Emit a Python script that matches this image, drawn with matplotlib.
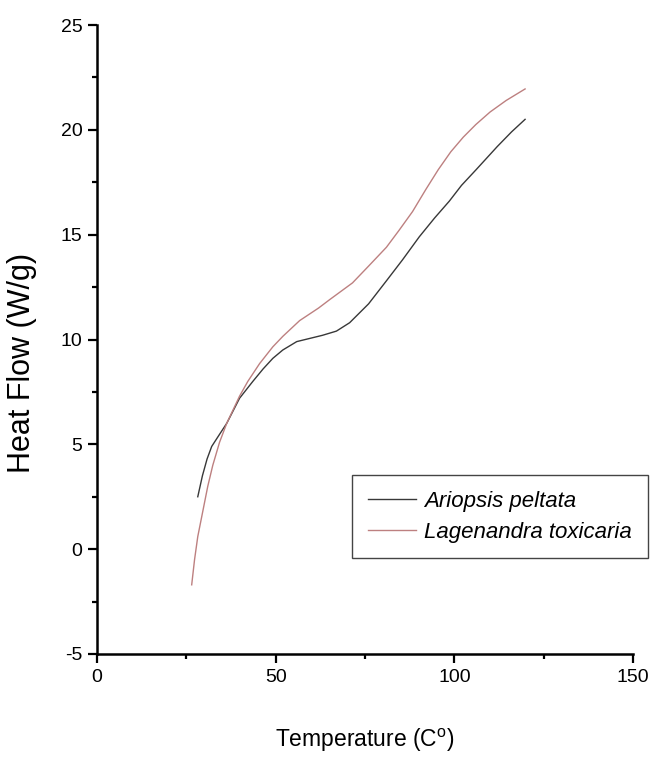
import matplotlib
matplotlib.use("Agg")
import matplotlib.pyplot as plt
from matplotlib.ticker import MultipleLocator

# -------------------------------
# Data
# -------------------------------
ariopsis_temp = [28.2, 29.5, 30.8, 32.1, 34.0, 36.3, 39.9, 43.6, 46.5, 49.2, 52.0,
                 55.9, 59.5, 63.1, 67.0, 70.7, 76.0, 81.0, 85.5, 90.2, 94.5,
                 98.6, 102.0, 106.1, 112.0, 116.0, 119.8]
ariopsis_flow = [2.5, 3.5, 4.3, 4.9, 5.4, 6.0, 7.2, 8.0, 8.6, 9.1, 9.5,
                 9.9, 10.05, 10.2, 10.4, 10.8, 11.7, 12.8, 13.8, 14.9, 15.8,
                 16.6, 17.35, 18.1, 19.2, 19.9, 20.5]

lagenandra_temp = [26.5, 27.3, 28.2, 29.6, 31.0, 32.4, 34.3, 36.3, 39.9, 42.2, 45.5,
                   49.2, 52.0, 56.7, 62.0, 65.1, 71.5, 76.0, 81.0, 84.5, 88.3,
                   92.0, 95.5, 99.0, 102.5, 106.0, 110.0, 114.5, 119.8]
lagenandra_flow = [-1.7, -0.5, 0.6, 1.8, 3.0, 4.0, 5.1, 6.0, 7.3, 8.0, 8.85,
                   9.65, 10.15, 10.9, 11.5, 11.9, 12.7, 13.5, 14.4, 15.2, 16.1,
                   17.15, 18.1, 18.95, 19.65, 20.25, 20.85, 21.4, 21.95]

series_labels = ["Ariopsis peltata", "Lagenandra toxicaria"]

# -------------------------------
# Style
# -------------------------------
plt.rcParams['font.family'] = ['Liberation Sans', 'DejaVu Sans']
plt.rcParams['mathtext.fontset'] = 'custom'
plt.rcParams['mathtext.rm'] = 'Liberation Sans'
plt.rcParams['axes.unicode_minus'] = False

fig = plt.figure(figsize=(6.51, 7.57), dpi=100)
ax = fig.add_axes([97 / 651, 1 - 654 / 757, (633 - 97) / 651, (654 - 25) / 757])

ax.plot(ariopsis_temp, ariopsis_flow, color='#383838', lw=1.0, label=series_labels[0])
ax.plot(lagenandra_temp, lagenandra_flow, color='#bd8080', lw=1.0, label=series_labels[1])

ax.set_xlim(0, 150)
ax.set_ylim(-5, 25)
ax.xaxis.set_major_locator(MultipleLocator(50))
ax.xaxis.set_minor_locator(MultipleLocator(25))
ax.yaxis.set_major_locator(MultipleLocator(5))
ax.yaxis.set_minor_locator(MultipleLocator(2.5))

for side in ['top', 'right']:
    ax.spines[side].set_visible(False)
for side in ['left', 'bottom']:
    ax.spines[side].set_linewidth(1.8)

ax.tick_params(which='major', direction='out', length=6.5, width=1.6, labelsize=14, pad=4)
ax.tick_params(which='minor', direction='out', length=3.5, width=1.6)

ax.set_xlabel("Temperature (C$^\\mathrm{o}$)", fontsize=16.5, labelpad=30)
ax.set_ylabel("Heat Flow (W/g)", fontsize=22, va='center')
ax.yaxis.set_label_coords(-75 / 536, 0.463)

leg = ax.legend(loc='upper left', bbox_to_anchor=(352 / 651, 1 - 475 / 757),
                bbox_transform=fig.transFigure, fancybox=False, framealpha=1,
                edgecolor='#444444', handlelength=2.2, handletextpad=0.35,
                borderpad=0.7, labelspacing=0.45, borderaxespad=0,
                prop={'size': 16, 'style': 'italic'})
leg.get_frame().set_linewidth(1.0)

plt.savefig("out.png", dpi=100)
